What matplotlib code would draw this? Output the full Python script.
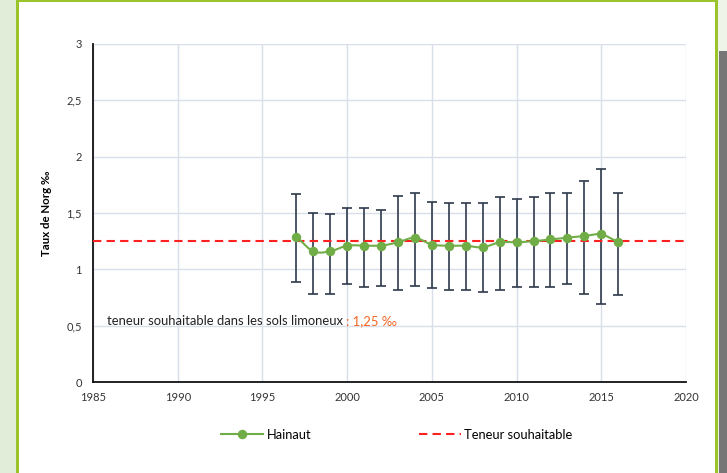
import matplotlib.pyplot as plt
import matplotlib.patches as mpatches
from matplotlib.lines import Line2D
import numpy as np

plt.rcParams['font.family'] = ['Lato', 'DejaVu Sans']

# Taux de Norg (‰) par année, province du Hainaut
years = [1997, 1998, 1999, 2000, 2001, 2002, 2003, 2004, 2005, 2006,
         2007, 2008, 2009, 2010, 2011, 2012, 2013, 2014, 2015, 2016]
norg = [1.29, 1.16, 1.16, 1.21, 1.21, 1.21, 1.24, 1.28, 1.22, 1.21,
        1.21, 1.195, 1.24, 1.24, 1.25, 1.265, 1.28, 1.295, 1.31, 1.24]
upper = [1.67, 1.50, 1.49, 1.54, 1.54, 1.53, 1.655, 1.68, 1.60, 1.585,
         1.585, 1.585, 1.64, 1.625, 1.64, 1.68, 1.68, 1.78, 1.89, 1.68]
lower = [0.885, 0.785, 0.785, 0.87, 0.845, 0.855, 0.815, 0.855, 0.83, 0.815,
         0.815, 0.80, 0.815, 0.845, 0.845, 0.845, 0.87, 0.785, 0.69, 0.77]
target = 1.25

xticks = [1985, 1990, 1995, 2000, 2005, 2010, 2015, 2020]
yticks = [0, 0.5, 1, 1.5, 2, 2.5, 3]
ytick_labels = ['0', '0,5', '1', '1,5', '2', '2,5', '3']

green = '#70AD47'
red = '#FF2020'
bar_col = '#2E3A4C'
grid_col = '#D9DFEA'
dash = (0, (4, 2.5))


def smooth(x, y, n=20):
    # Catmull-Rom curve through the points, like a spreadsheet "smoothed line"
    x = np.asarray(x, float)
    y = np.asarray(y, float)
    px = np.concatenate([[2 * x[0] - x[1]], x, [2 * x[-1] - x[-2]]])
    py = np.concatenate([[2 * y[0] - y[1]], y, [2 * y[-1] - y[-2]]])
    t = np.linspace(0, 1, n)
    xs, ys = [], []
    for i in range(1, len(px) - 2):
        for p, out in ((px, xs), (py, ys)):
            p0, p1, p2, p3 = p[i - 1], p[i], p[i + 1], p[i + 2]
            c1 = p1 + (p2 - p0) / 6
            c2 = p2 - (p3 - p1) / 6
            out.extend((1 - t) ** 3 * p1 + 3 * (1 - t) ** 2 * t * c1
                       + 3 * (1 - t) * t ** 2 * c2 + t ** 3 * p2)
    return np.array(xs), np.array(ys)


def band(x0, y0, w, h, color, z=1):
    fig.patches.append(mpatches.Rectangle((x0 / W, 1 - (y0 + h) / H), w / W, h / H,
                                          transform=fig.transFigure, facecolor=color,
                                          edgecolor='none', zorder=z))


W, H = 727, 473
fig = plt.figure(figsize=(W / 100, H / 100), dpi=100)

# page frame: pale green strip, green border, grey shadow on the right
band(0, 0, 16, H, '#E2EDD9', 0)
band(718, 0, 9, H, '#EEF4E8', 0)
band(16, 0, 3, H, '#9BC42A')
band(16, 0, 702, 2, '#9BC42A')
band(715, 0, 3, H, '#9BC42A')
band(719, 51, 8, H - 51, '#767676')

ax = fig.add_axes([93 / W, (H - 382) / H, (686 - 93) / W, (382 - 44) / H])
ax.set_xlim(1985, 2020)
ax.set_ylim(0, 3)
ax.set_xticks(xticks)
ax.set_xticklabels([str(v) for v in xticks], fontsize=8, color='#333333')
ax.set_yticks(yticks)
ax.set_yticklabels(ytick_labels, fontsize=8, color='#333333')
ax.tick_params(length=0)
ax.tick_params(axis='x', pad=7)
ax.tick_params(axis='y', pad=8)
ax.grid(True, color=grid_col, linewidth=1)
ax.set_axisbelow(True)
for s in ['top', 'right']:
    ax.spines[s].set_visible(False)
for s in ['left', 'bottom']:
    ax.spines[s].set_color('#111111')
    ax.spines[s].set_linewidth(1.3)

ax.set_ylabel('Taux de Norg ‰', fontsize=8.3, fontweight='bold', labelpad=10)

# error bars
yerr = [np.array(norg) - np.array(lower), np.array(upper) - np.array(norg)]
ax.errorbar(years, norg, yerr=yerr, fmt='none', ecolor=bar_col, elinewidth=1.2,
            capsize=3.4, capthick=1.2, zorder=3)

# target level
ax.axhline(target, color=red, linestyle=dash, linewidth=1.5, zorder=4)

# smoothed series with markers
sx, sy = smooth(years, norg)
ax.plot(sx, sy, color=green, linewidth=1.5, zorder=5)
ax.plot(years, norg, 'o', color=green, markersize=5.8, zorder=6)

note = ax.text(1985.8, 0.544, 'teneur souhaitable dans les sols limoneux ', fontsize=9.4,
               color='#222222', va='center', zorder=7)
ax.annotate(': 1,25 ‰', xy=(1, 0.5), xycoords=note, va='center', ha='left',
            fontsize=9.4, color='#F26522', zorder=7)

leg_y = 1 - 435 / H
fig.legend([Line2D([], [], color=green, linewidth=1.5, marker='o', markersize=5.8)],
           ['Hainaut'], loc='center left', bbox_to_anchor=(209 / W, leg_y),
           frameon=False, fontsize=9.3, handlelength=3.3, handletextpad=0.25)
fig.legend([Line2D([], [], color=red, linewidth=1.5, linestyle=dash)],
           ['Teneur souhaitable'], loc='center left', bbox_to_anchor=(407 / W, leg_y),
           frameon=False, fontsize=9.3, handlelength=3.3, handletextpad=0.25)

fig.savefig('out.png', dpi=100)
